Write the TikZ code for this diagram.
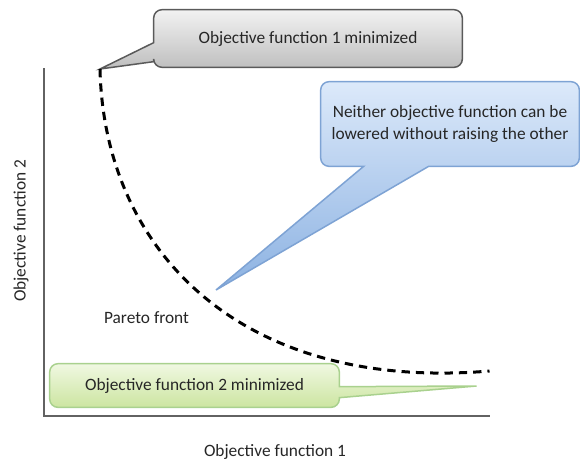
\documentclass[tikz,border=0pt]{standalone}
\usepackage{fontspec}
\setmainfont{Carlito}
\usetikzlibrary{positioning, calc, backgrounds}

\definecolor{axisgray}{RGB}{98,98,98}
\definecolor{textgray}{RGB}{38,38,38}
\definecolor{grayedge}{RGB}{90,90,90}
\definecolor{graytop}{RGB}{242,242,242}
\definecolor{graybot}{RGB}{190,190,190}
\definecolor{blueedge}{RGB}{126,163,212}
\definecolor{bluetop}{RGB}{220,233,250}
\definecolor{bluebot}{RGB}{140,178,226}
\definecolor{greenedge}{RGB}{169,209,142}
\definecolor{greentop}{RGB}{240,248,226}
\definecolor{greenbot}{RGB}{204,229,160}

\begin{document}
\begin{tikzpicture}[x=0.6pt, y=-0.6pt,
  txt/.style={font=\fontsize{10.4}{13.2}\selectfont, text=textgray},
  box/.style={txt, inner sep=0pt, align=center},
  axis/.style={draw=axisgray, line width=1.3pt},
  front/.style={line width=1.8pt, dash pattern=on 5pt off 3.6pt},
  callout/.style={line width=0.9pt},
]
\useasboundingbox (0,0) rectangle (580,461);

% Add the axes
\coordinate (origin) at (44,416);
\coordinate (ytop) at (44,68);
\coordinate (xend) at (490,416);
\draw[axis] (ytop) -- (origin) -- (xend);

\node[txt, rotate=90] (ylab) at (21,231) {Objective function 2};
\node[txt] (xlab) at (275,452) {Objective function 1};

% Add the callout texts
\node[box, minimum width=184.8pt, minimum height=34.2pt] (obj1) at (308,38.5) {Objective function 1 minimized};
\node[box, minimum width=154.8pt, minimum height=50.4pt] (both) at (450,124) {Neither objective function can be\\lowered without raising the other};
\node[box, minimum width=173.4pt, minimum height=25.8pt] (obj2) at (194.5,385.5) {Objective function 2 minimized};
\node[txt] (pareto) at (146.5,318) {Pareto front};

% Pointer tips
\coordinate (tip1) at (100,69);
\coordinate (tipb) at (216,290);
\coordinate (tip2) at (476.5,386);
\coordinate (fend) at (489.5,371);

% Pareto front
\draw[front] (tip1) .. controls (104,250) and (240,392) .. (fend);

\begin{scope}[on background layer]
  \draw[callout, draw=grayedge, top color=graytop, bottom color=graybot]
    ($(obj1.north west)+(0,33)$) [rounded corners=5pt] |- (obj1.north east) |- (obj1.south west)
    [sharp corners] -- ($(obj1.north west)+(0,52)$) -- (tip1) -- cycle;
  \draw[callout, draw=blueedge, top color=bluetop, bottom color=bluebot]
    ($(both.south west)+(108,0)$) [rounded corners=5pt] -| (both.north east) -| (both.south west)
    [sharp corners] -- ($(both.south west)+(43,0)$) -- (tipb) -- cycle;
  \draw[callout, draw=greenedge, top color=greentop, bottom color=greenbot]
    ($(obj2.north east)+(0,23)$) [rounded corners=5pt] |- (obj2.north west) |- (obj2.south east)
    [sharp corners] -- ($(obj2.north east)+(0,34)$) -- (tip2) -- cycle;
\end{scope}
\end{tikzpicture}
\end{document}
